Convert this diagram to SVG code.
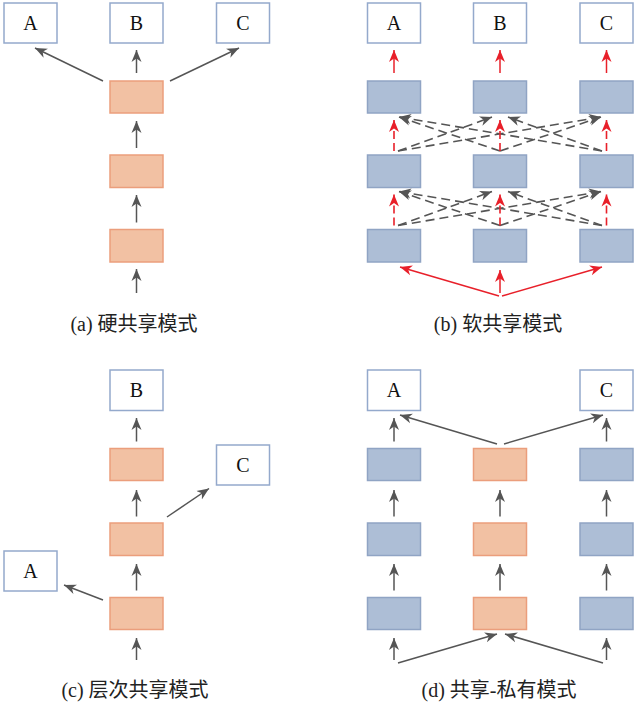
<svg xmlns="http://www.w3.org/2000/svg" width="639" height="705" viewBox="0 0 639 705">
<style>
.out{fill:#fff;stroke:#94a9cc;stroke-width:1.5}
.sh{fill:#f2c1a3;stroke:#eb9e7c;stroke-width:1.5}
.pr{fill:#adbed6;stroke:#90a4c4;stroke-width:1.5}
.lbl{font-family:"Liberation Serif","Noto Sans CJK SC",serif;font-size:20px;fill:#111;text-anchor:middle}
.cap{font-family:"Liberation Serif","Noto Sans CJK SC",serif;font-size:20px;fill:#222;text-anchor:middle}
.g{stroke:#555;stroke-width:1.5;fill:none;marker-end:url(#ag)}
.gd{stroke:#555;stroke-width:1.6;fill:none;stroke-dasharray:9 5;marker-end:url(#ag)}
.r{stroke:#e8202a;stroke-width:1.5;fill:none;marker-end:url(#ar)}
.rd{stroke:#e8202a;stroke-width:1.6;fill:none;stroke-dasharray:8 4;marker-end:url(#ar)}
</style>
<defs>
<marker id="ag" viewBox="0 -6 13 12" refX="12" refY="0" markerWidth="13" markerHeight="12" markerUnits="userSpaceOnUse" orient="auto"><path d="M0,-5 L12,0 L0,5 L3.5,0 Z" fill="#555"/></marker>
<marker id="ar" viewBox="0 -6 13 12" refX="12" refY="0" markerWidth="13" markerHeight="12" markerUnits="userSpaceOnUse" orient="auto"><path d="M0,-5 L12,0 L0,5 L3.5,0 Z" fill="#e8202a"/></marker>
</defs>

<!-- Panel (a) -->
<g id="a-A"><rect class="out" x="4" y="3" width="53" height="40"/><text class="lbl" x="30.5" y="30">A</text></g>
<g id="a-B"><rect class="out" x="110" y="3" width="53" height="40"/><text class="lbl" x="136.5" y="30">B</text></g>
<g id="a-C"><rect class="out" x="216.5" y="3" width="53" height="40"/><text class="lbl" x="243" y="30">C</text></g>
<g id="a-s1"><rect class="sh" x="110" y="81" width="53" height="32"/></g>
<g id="a-s2"><rect class="sh" x="110" y="155" width="53" height="32.5"/></g>
<g id="a-s3"><rect class="sh" x="110" y="229.5" width="53" height="32.5"/></g>
<g id="a-conn">
<line class="g" x1="136.5" y1="73" x2="136.5" y2="50"/>
<line class="g" x1="103" y1="81" x2="35" y2="48"/>
<line class="g" x1="170" y1="81" x2="239" y2="48"/>
<line class="g" x1="136.5" y1="148" x2="136.5" y2="121"/>
<line class="g" x1="136.5" y1="222.5" x2="136.5" y2="195"/>
<line class="g" x1="136.5" y1="293" x2="136.5" y2="269"/>
</g>
<text class="cap" x="134" y="331">(a) 硬共享模式</text>

<!-- Panel (b) -->
<g id="b-A"><rect class="out" x="367.5" y="3" width="53" height="40"/><text class="lbl" x="394" y="30">A</text></g>
<g id="b-B"><rect class="out" x="473.5" y="3" width="53" height="40"/><text class="lbl" x="500" y="30">B</text></g>
<g id="b-C"><rect class="out" x="580" y="3" width="53" height="40"/><text class="lbl" x="606.5" y="30">C</text></g>
<g id="b-A1"><rect class="pr" x="367.5" y="81" width="53" height="32"/></g>
<g id="b-B1"><rect class="pr" x="473.5" y="81" width="53" height="32"/></g>
<g id="b-C1"><rect class="pr" x="580" y="81" width="53" height="32"/></g>
<g id="b-A2"><rect class="pr" x="367.5" y="155" width="53" height="32.5"/></g>
<g id="b-B2"><rect class="pr" x="473.5" y="155" width="53" height="32.5"/></g>
<g id="b-C2"><rect class="pr" x="580" y="155" width="53" height="32.5"/></g>
<g id="b-A3"><rect class="pr" x="367.5" y="229.5" width="53" height="32.5"/></g>
<g id="b-B3"><rect class="pr" x="473.5" y="229.5" width="53" height="32.5"/></g>
<g id="b-C3"><rect class="pr" x="580" y="229.5" width="53" height="32.5"/></g>
<g id="b-conn">
<line class="r" x1="394" y1="73" x2="394" y2="50"/>
<line class="r" x1="500" y1="73" x2="500" y2="50"/>
<line class="r" x1="606.5" y1="73" x2="606.5" y2="50"/>
<line class="gd" x1="500" y1="151" x2="399" y2="117"/>
<line class="gd" x1="602" y1="151" x2="399" y2="117"/>
<line class="gd" x1="398" y1="151" x2="492" y2="117"/>
<line class="gd" x1="602" y1="151" x2="508" y2="117"/>
<line class="gd" x1="398" y1="151" x2="601" y2="117"/>
<line class="gd" x1="500" y1="151" x2="601" y2="117"/>
<line class="rd" x1="394" y1="151" x2="394" y2="120"/>
<line class="rd" x1="500" y1="151" x2="500" y2="120"/>
<line class="rd" x1="606.5" y1="151" x2="606.5" y2="120"/>
<line class="gd" x1="500" y1="225.5" x2="399" y2="191.5"/>
<line class="gd" x1="602" y1="225.5" x2="399" y2="191.5"/>
<line class="gd" x1="398" y1="225.5" x2="492" y2="191.5"/>
<line class="gd" x1="602" y1="225.5" x2="508" y2="191.5"/>
<line class="gd" x1="398" y1="225.5" x2="601" y2="191.5"/>
<line class="gd" x1="500" y1="225.5" x2="601" y2="191.5"/>
<line class="rd" x1="394" y1="225.5" x2="394" y2="194.5"/>
<line class="rd" x1="500" y1="225.5" x2="500" y2="194.5"/>
<line class="rd" x1="606.5" y1="225.5" x2="606.5" y2="194.5"/>
<line class="r" x1="499" y1="296" x2="400" y2="267"/>
<line class="r" x1="500" y1="293" x2="500" y2="270"/>
<line class="r" x1="502" y1="296" x2="602" y2="267"/>
</g>
<text class="cap" x="498" y="331">(b) 软共享模式</text>

<!-- Panel (c) -->
<g id="c-B"><rect class="out" x="110" y="370" width="53" height="40.5"/><text class="lbl" x="136.5" y="397">B</text></g>
<g id="c-C"><rect class="out" x="216.5" y="445" width="53" height="40"/><text class="lbl" x="243" y="472">C</text></g>
<g id="c-A"><rect class="out" x="4" y="551" width="53" height="40"/><text class="lbl" x="30.5" y="578">A</text></g>
<g id="c-s1"><rect class="sh" x="110" y="448.5" width="53" height="32"/></g>
<g id="c-s2"><rect class="sh" x="110" y="523" width="53" height="32.5"/></g>
<g id="c-s3"><rect class="sh" x="110" y="597.5" width="53" height="32"/></g>
<g id="c-conn">
<line class="g" x1="136.5" y1="441.5" x2="136.5" y2="418"/>
<line class="g" x1="136.5" y1="516.5" x2="136.5" y2="490"/>
<line class="g" x1="167" y1="517" x2="209" y2="488.5"/>
<line class="g" x1="136.5" y1="590.5" x2="136.5" y2="564"/>
<line class="g" x1="103" y1="600" x2="64" y2="585"/>
<line class="g" x1="136.5" y1="660" x2="136.5" y2="638"/>
</g>
<text class="cap" x="135" y="697">(c) 层次共享模式</text>

<!-- Panel (d) -->
<g id="d-A"><rect class="out" x="367.5" y="370" width="53" height="40.5"/><text class="lbl" x="394" y="397">A</text></g>
<g id="d-C"><rect class="out" x="580" y="370" width="53" height="40.5"/><text class="lbl" x="606.5" y="397">C</text></g>
<g id="d-A1"><rect class="pr" x="367.5" y="448.5" width="53" height="32"/></g>
<g id="d-A2"><rect class="pr" x="367.5" y="523" width="53" height="32.5"/></g>
<g id="d-A3"><rect class="pr" x="367.5" y="597.5" width="53" height="32"/></g>
<g id="d-S1"><rect class="sh" x="473.5" y="448.5" width="53" height="32"/></g>
<g id="d-S2"><rect class="sh" x="473.5" y="523" width="53" height="32.5"/></g>
<g id="d-S3"><rect class="sh" x="473.5" y="597.5" width="53" height="32"/></g>
<g id="d-C1"><rect class="pr" x="580" y="448.5" width="53" height="32"/></g>
<g id="d-C2"><rect class="pr" x="580" y="523" width="53" height="32.5"/></g>
<g id="d-C3"><rect class="pr" x="580" y="597.5" width="53" height="32"/></g>
<g id="d-conn">
<line class="g" x1="394" y1="441.5" x2="394" y2="418"/>
<line class="g" x1="606.5" y1="441.5" x2="606.5" y2="418"/>
<line class="g" x1="497" y1="444" x2="400" y2="415"/>
<line class="g" x1="504" y1="444" x2="603" y2="415"/>
<line class="g" x1="394" y1="516.5" x2="394" y2="490"/>
<line class="g" x1="500" y1="516.5" x2="500" y2="490"/>
<line class="g" x1="606.5" y1="516.5" x2="606.5" y2="490"/>
<line class="g" x1="394" y1="590.5" x2="394" y2="564"/>
<line class="g" x1="500" y1="590.5" x2="500" y2="564"/>
<line class="g" x1="606.5" y1="590.5" x2="606.5" y2="564"/>
<line class="g" x1="394" y1="660" x2="394" y2="638"/>
<line class="g" x1="606.5" y1="660" x2="606.5" y2="638"/>
<line class="g" x1="398" y1="663" x2="497" y2="634"/>
<line class="g" x1="603" y1="663" x2="505" y2="634"/>
</g>
<text class="cap" x="499" y="697">(d) 共享-私有模式</text>
</svg>
